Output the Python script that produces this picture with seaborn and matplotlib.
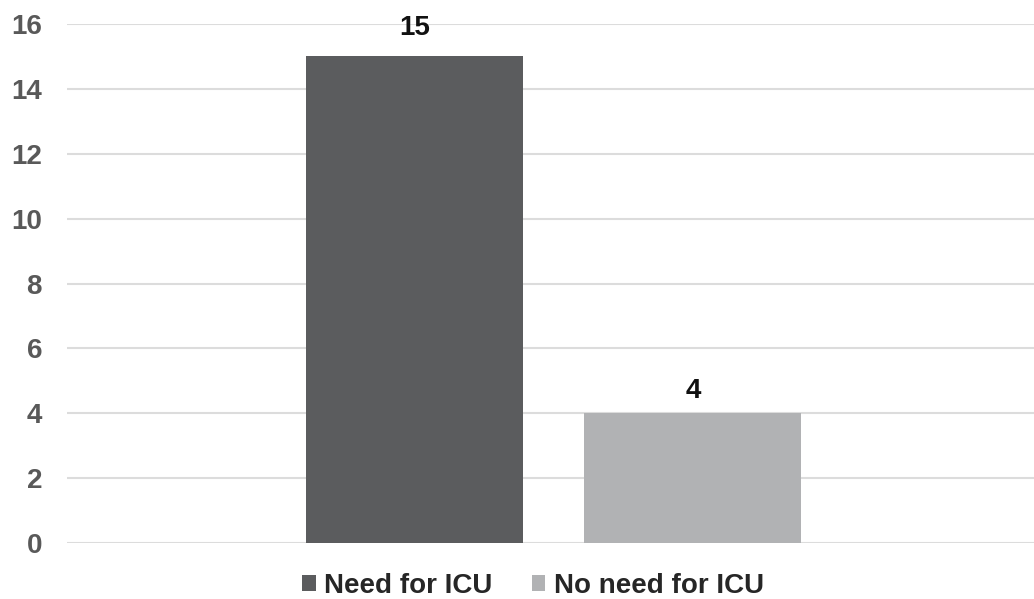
import matplotlib
matplotlib.use("Agg")
import matplotlib.pyplot as plt
import seaborn as sns
import pandas as pd
from matplotlib.patches import Patch

# Data
groups = ["Need for ICU", "No need for ICU"]
patients = [15, 4]
colors = ["#5b5c5e", "#b1b2b4"]
yticks = [0, 2, 4, 6, 8, 10, 12, 14, 16]

df = pd.DataFrame({"cat": ["ICU"] * len(groups), "group": groups, "n": patients})

sns.set_theme(style="white")
plt.rcParams["font.family"] = ["Liberation Sans", "DejaVu Sans"]
plt.rcParams["font.weight"] = "bold"

W, H = 1034, 599
fig = plt.figure(figsize=(W / 100, H / 100), dpi=100)
left_px, right_px, top_px, bottom_px = 67, 1034, 24, 543
ax = fig.add_axes([left_px / W, (H - bottom_px) / H,
                   (right_px - left_px) / W, (bottom_px - top_px) / H])

sns.barplot(data=df, x="cat", y="n", hue="group", palette=colors,
            width=0.8, gap=0.22, dodge=True, legend=False, ax=ax,
            linewidth=0, saturation=1)

# value labels above each bar
for cont, pad in zip(ax.containers, [11, 7]):
    ax.bar_label(cont, fmt="%d", padding=pad, fontsize=20, fontweight="bold",
                 color="#111111")

ax.set_ylim(0, 16)
ax.set_yticks(yticks)
ax.set_xlim(-0.699, 0.690)
ax.set_xticks([])
ax.set_xlabel("")
ax.set_ylabel("")
ax.yaxis.grid(True, color="#dcdcdc", linewidth=1.5)
ax.set_axisbelow(True)
for s in ax.spines.values():
    s.set_visible(False)
ax.tick_params(axis="y", length=0, pad=18, labelsize=20, labelcolor="#595959")
for lab in ax.get_yticklabels():
    lab.set_fontweight("bold")

handles = [Patch(facecolor=c, edgecolor="none", label=g) for g, c in zip(groups, colors)]
fig.legend(handles=handles, loc="center", bbox_to_anchor=(533 / W, 1 - 586 / H),
           ncol=2, frameon=False, handlelength=0.5, handleheight=0.5,
           handletextpad=0.3, columnspacing=1.4, borderpad=0.1,
           prop={"weight": "bold", "size": 20})

fig.savefig("out.png", dpi=100)
